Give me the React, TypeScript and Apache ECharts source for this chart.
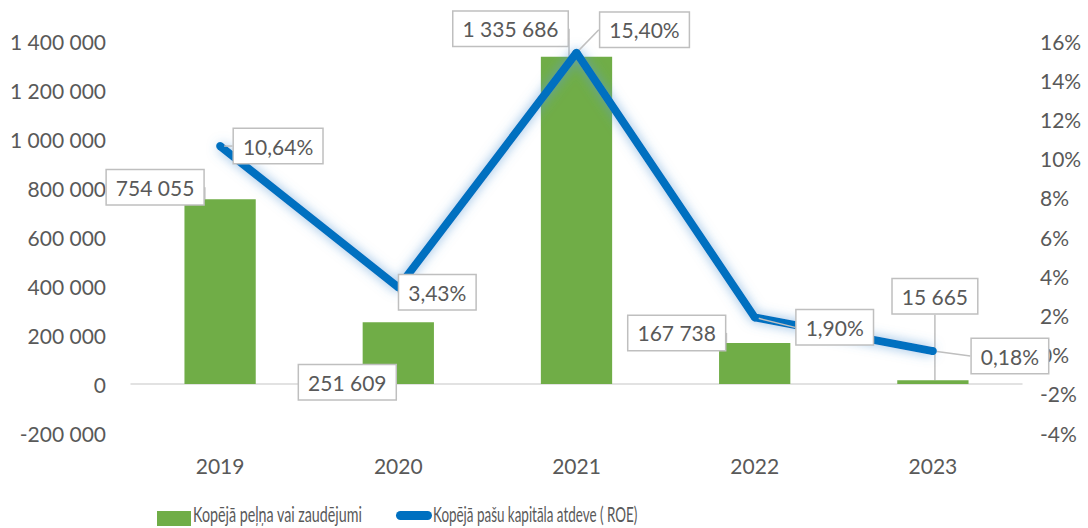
import React, { useEffect, useRef } from "react";
import * as echarts from "echarts";

const years = ["2019", "2020", "2021", "2022", "2023"];
const profit = [754055, 251609, 1335686, 167738, 15665];
const roe = [10.64, 3.43, 15.4, 1.9, 0.18];
const profitName = "Kopējā peļņa vai zaudējumi";
const roeName = "Kopējā pašu kapitāla atdeve ( ROE)";

// callout box offsets (label centre relative to the anchor)
const barLabelOffsets = [
  [-65, -12],
  [-51, 60],
  [-66, -28],
  [-78, -10],
  [2, -84],
];
const lineLabelOffsets = [
  [58, 0],
  [39, 5],
  [68, -23],
  [80, 10],
  [77, 5],
];

const FONT = "Lato, 'Open Sans', sans-serif";
const TEXT = "#595959";
const GREEN = "#70AD47";
const BLUE = "#0070C0";

const fmtNum = (v: number) => {
  const s = Math.abs(Math.round(v)).toString().replace(/\B(?=(\d{3})+(?!\d))/g, " ");
  return (v < 0 ? "-" : "") + s;
};
const fmtPct = (v: number) => v.toFixed(2).replace(".", ",") + "%";

const calloutLabel = {
  show: true,
  fontFamily: FONT,
  fontSize: 21,
  color: TEXT,
  backgroundColor: "#ffffff",
  borderColor: "#BFBFBF",
  borderWidth: 1.5,
  padding: [7, 9, 6, 9],
};

export default function App() {
  const ref = useRef<HTMLDivElement>(null);
  useEffect(() => {
    if (!ref.current) return;
    const chart = echarts.init(ref.current, null, { renderer: "svg" });
    chart.setOption({
      animation: false,
      backgroundColor: "#ffffff",
      grid: { left: 131, right: 66, top: 41, bottom: 95, containLabel: false },
      legend: { show: false },
      graphic: [
        { type: "rect", shape: { x: 157, y: 511, width: 34, height: 15 }, style: { fill: GREEN } },
        {
          type: "text",
          x: 193,
          y: 514,
          scaleX: 0.68,
          style: {
            text: profitName,
            fontFamily: FONT,
            fontSize: 21,
            fill: TEXT,
            textAlign: "left",
            textVerticalAlign: "middle",
          },
        },
        {
          type: "rect",
          shape: { x: 396, y: 511, width: 36, height: 9, r: 4.5 },
          style: { fill: BLUE },
        },
        {
          type: "text",
          x: 433,
          y: 514,
          scaleX: 0.64,
          style: {
            text: roeName,
            fontFamily: FONT,
            fontSize: 21,
            fill: TEXT,
            textAlign: "left",
            textVerticalAlign: "middle",
          },
        },
      ],
      xAxis: {
        type: "category",
        data: years,
        axisLine: { show: true, onZero: true, lineStyle: { color: "#D9D9D9", width: 1.5 } },
        axisTick: { show: false },
        axisLabel: { fontFamily: FONT, fontSize: 21, color: TEXT, margin: 22 },
        splitLine: { show: false },
      },
      yAxis: [
        {
          type: "value",
          min: -200000,
          max: 1400000,
          interval: 200000,
          axisLine: { show: false },
          axisTick: { show: false },
          splitLine: { show: false },
          axisLabel: {
            fontFamily: FONT,
            fontSize: 21,
            color: TEXT,
            margin: 25,
            formatter: (v: number) => fmtNum(v),
          },
        },
        {
          type: "value",
          min: -4,
          max: 16,
          interval: 2,
          axisLine: { show: false },
          axisTick: { show: false },
          splitLine: { show: false },
          axisLabel: {
            fontFamily: FONT,
            fontSize: 21,
            color: TEXT,
            margin: 18,
            formatter: (v: number) => v + "%",
          },
        },
      ],
      series: [
        {
          name: profitName,
          type: "bar",
          yAxisIndex: 0,
          data: profit,
          barWidth: "40%",
          itemStyle: { color: GREEN },
          label: {
            ...calloutLabel,
            position: "top",
            formatter: (p: any) => fmtNum(p.value),
          },
          labelLine: { show: true, lineStyle: { color: "#BFBFBF", width: 1.5 } },
          labelLayout: (p: any) => {
            const o = barLabelOffsets[p.dataIndex];
            return {
              x: p.rect.x + p.rect.width / 2 + o[0],
              y: p.rect.y + o[1],
              align: "center",
              verticalAlign: "middle",
            };
          },
          z: 2,
        },
        {
          name: roeName,
          type: "line",
          yAxisIndex: 1,
          data: roe,
          symbol: "circle",
          symbolSize: 8,
          itemStyle: { color: BLUE },
          lineStyle: {
            color: BLUE,
            width: 8,
            shadowColor: "rgba(91,155,213,0.7)",
            shadowBlur: 12,
          },
          label: {
            ...calloutLabel,
            position: "right",
            formatter: (p: any) => fmtPct(p.value),
          },
          labelLine: { show: true, lineStyle: { color: "#BFBFBF", width: 1.5 } },
          labelLayout: (p: any) => {
            const o = lineLabelOffsets[p.dataIndex];
            return {
              x: p.rect.x + p.rect.width / 2 + o[0],
              y: p.rect.y + p.rect.height / 2 + o[1],
              align: "center",
              verticalAlign: "middle",
            };
          },
          z: 3,
        },
      ],
    });
    return () => chart.dispose();
  }, []);
  return (
    <div
      ref={ref}
      style={{ position: "absolute", left: 0, top: 0, width: 1088, height: 528 }}
    />
  );
}
